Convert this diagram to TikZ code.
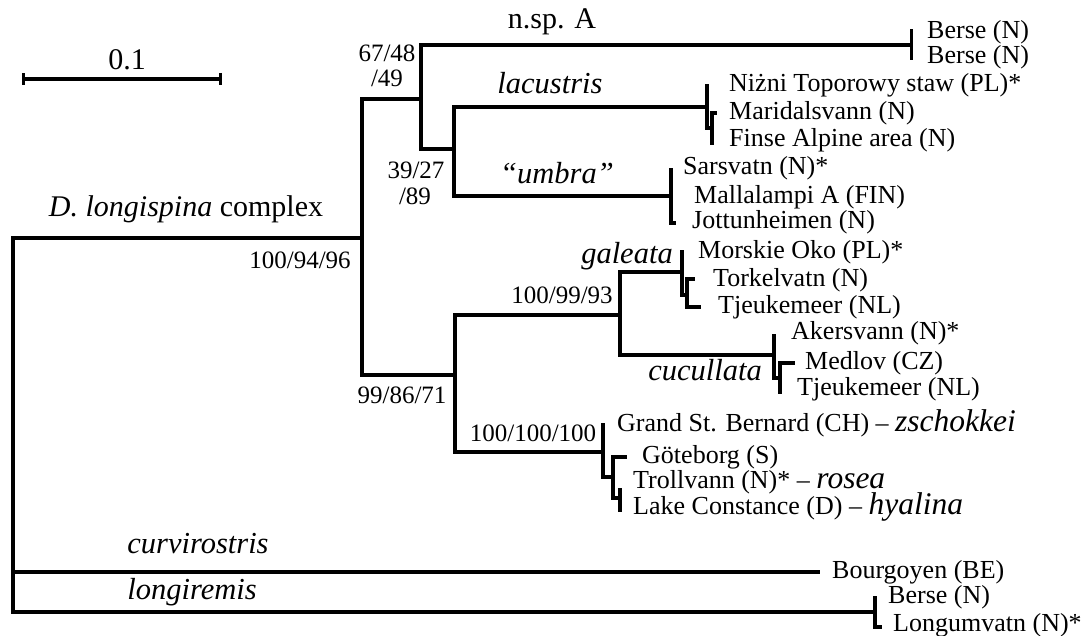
\documentclass[tikz,border=0pt]{standalone}
\usepackage{fontspec}
\setmainfont{Liberation Serif}
\usetikzlibrary{arrows.meta}
\newcommand{\taxon}[1]{{\fontsize{31.5}{27}\selectfont\itshape #1}}
\tikzset{
  every node/.style={font=\fontsize{26}{27}\selectfont, inner sep=0pt, text height=18pt, text depth=5pt},
  br/.style={line width=3.2pt, line cap=rect},
  leaf/.style={anchor=west},
  supp/.style={anchor=center, font=\fontsize{25}{27}\selectfont},
  clade/.style={anchor=center, font=\fontsize{30.5}{27}\selectfont\itshape},
  big/.style={anchor=center, font=\fontsize{30}{27}\selectfont},
}

\begin{document}
\begin{tikzpicture}[x=1pt, y=-1pt]
  \useasboundingbox (0,0) rectangle (1086,636);
  % scale bar
  \coordinate (sbL) at (22,79);
  \coordinate (sbR) at (222,79);
  \draw[br, {Bar[width=12pt]}-{Bar[width=12pt]}] (sbL) -- (sbR);
  \node[big] (scale) at (127,63) {0.1};
  % inner nodes
  \coordinate (root) at (13,238);
  \coordinate (n1) at (362,238);
  \coordinate (n2) at (421,99);
  \coordinate (n3) at (454,149);
  \coordinate (n4) at (455,375);
  \coordinate (n5) at (620,315);
  \coordinate (nsp) at (913,45);
  \coordinate (lac) at (707,107);
  \coordinate (umb) at (671,196);
  \coordinate (gal) at (682,272);
  \coordinate (cuc) at (774,355);
  \coordinate (zs) at (603,452);
  \coordinate (cvr) at (818,572);
  \coordinate (lgr) at (875,612);
  \draw[br] (root) -- (n1);
  \draw[br] (root) |- (cvr);
  \draw[br] (root) |- (lgr);
  \draw[br] (n1) |- (n2);
  \draw[br] (n1) |- (n4);
  \draw[br, -{Bar[width=31pt]}] (n2) |- (nsp);
  \draw[br] (n2) |- (n3);
  \draw[br] (n3) |- (lac);
  \draw[br] (n3) |- (umb);
  \draw[br] (n4) |- (n5);
  \draw[br] (n4) |- (zs);
  \draw[br] (n5) |- (gal);
  \draw[br] (n5) |- (cuc);
  % tip clusters
  \coordinate (lacA) at (707,86);
  \coordinate (lacB) at (712,128);
  \coordinate (lacC) at (715,113);
  \coordinate (lacD) at (712,143);
  \draw[br] (lacA) |- (lacB);
  \draw[br] (lacC) -| (lacD);
  \coordinate (umbA) at (671,170);
  \coordinate (umbB) at (674,223);
  \draw[br] (umbA) |- (umbB);
  \coordinate (galA) at (682,252);
  \coordinate (galB) at (687,295);
  \coordinate (galC) at (693,279);
  \coordinate (galD) at (687,307);
  \coordinate (galE) at (699,307);
  \draw[br] (galA) |- (galB);
  \draw[br] (galC) -| (galD) -- (galE);
  \coordinate (cucA) at (774,336);
  \coordinate (cucB) at (780,378);
  \coordinate (cucC) at (793,363);
  \coordinate (cucD) at (780,392);
  \draw[br] (cucA) |- (cucB);
  \draw[br] (cucC) -| (cucD);
  \coordinate (zsA) at (603,425);
  \coordinate (zsB) at (613,477);
  \coordinate (zsC) at (625,457);
  \coordinate (zsD) at (613,498);
  \coordinate (zsE) at (620,498);
  \coordinate (zsF) at (620,490);
  \coordinate (zsG) at (620,510);
  \draw[br] (zsA) |- (zsB);
  \draw[br] (zsC) -| (zsD) -- (zsE);
  \draw[br] (zsF) -- (zsG);
  \coordinate (lgrA) at (875,598);
  \coordinate (lgrB) at (880,627);
  \draw[br] (lgrA) |- (lgrB);
  % clade names and support values
  \node[big] (tNsp) at (552,22) {n.sp. A};
  \node[clade] (tLac) at (550,87) {lacustris};
  \node[clade] (tUmb) at (557,177) {“umbra”};
  \node[big] (tLong) at (186,210) {\textit{D. longispina} complex};
  \node[supp] (s1) at (300,262) {100/94/96};
  \node[supp] (s2a) at (387,55) {67/48};
  \node[supp] (s2b) at (387,80) {/49};
  \node[supp] (s3a) at (416,172) {39/27};
  \node[supp] (s3b) at (415,198) {/89};
  \node[clade] (tGal) at (627,257) {galeata};
  \node[supp] (s5) at (562,297) {100/99/93};
  \node[clade] (tCuc) at (705,374) {cucullata};
  \node[supp] (s4) at (402,397) {99/86/71};
  \node[supp] (s6) at (533,435) {100/100/100};
  \node[clade] (tCvr) at (198,547) {curvirostris};
  \node[clade] (tLgr) at (192,593) {longiremis};
  % leaves
  \node[leaf] (l1) at (927,32) {Berse (N)};
  \node[leaf] (l2) at (927,57) {Berse (N)};
  \node[leaf] (l3) at (729,85) {Niżni Toporowy staw (PL)*};
  \node[leaf] (l4) at (729,113) {Maridalsvann (N)};
  \node[leaf] (l5) at (729,140) {Finse Alpine area (N)};
  \node[leaf] (l6) at (683,168) {Sarsvatn (N)*};
  \node[leaf] (l7) at (694,197) {Mallalampi A (FIN)};
  \node[leaf] (l8) at (692,222) {Jottunheimen (N)};
  \node[leaf] (l9) at (698,252) {Morskie Oko (PL)*};
  \node[leaf] (l10) at (713,280) {Torkelvatn (N)};
  \node[leaf] (l11) at (718,307) {Tjeukemeer (NL)};
  \node[leaf] (l12) at (791,333) {Akersvann (N)*};
  \node[leaf] (l13) at (805,363) {Medlov (CZ)};
  \node[leaf] (l14) at (797,389) {Tjeukemeer (NL)};
  \node[leaf] (l15) at (617,425) {Grand St. Bernard (CH) – \taxon{zschokkei}};
  \node[leaf] (l16) at (642,457) {Göteborg (S)};
  \node[leaf] (l17) at (633,482) {Trollvann (N)* – \taxon{rosea}};
  \node[leaf] (l18) at (633,508) {Lake Constance (D) – \taxon{hyalina}};
  \node[leaf] (l19) at (832,572) {Bourgoyen (BE)};
  \node[leaf] (l20) at (888,597) {Berse (N)};
  \node[leaf] (l21) at (893,625) {Longumvatn (N)*};
\end{tikzpicture}
\end{document}
